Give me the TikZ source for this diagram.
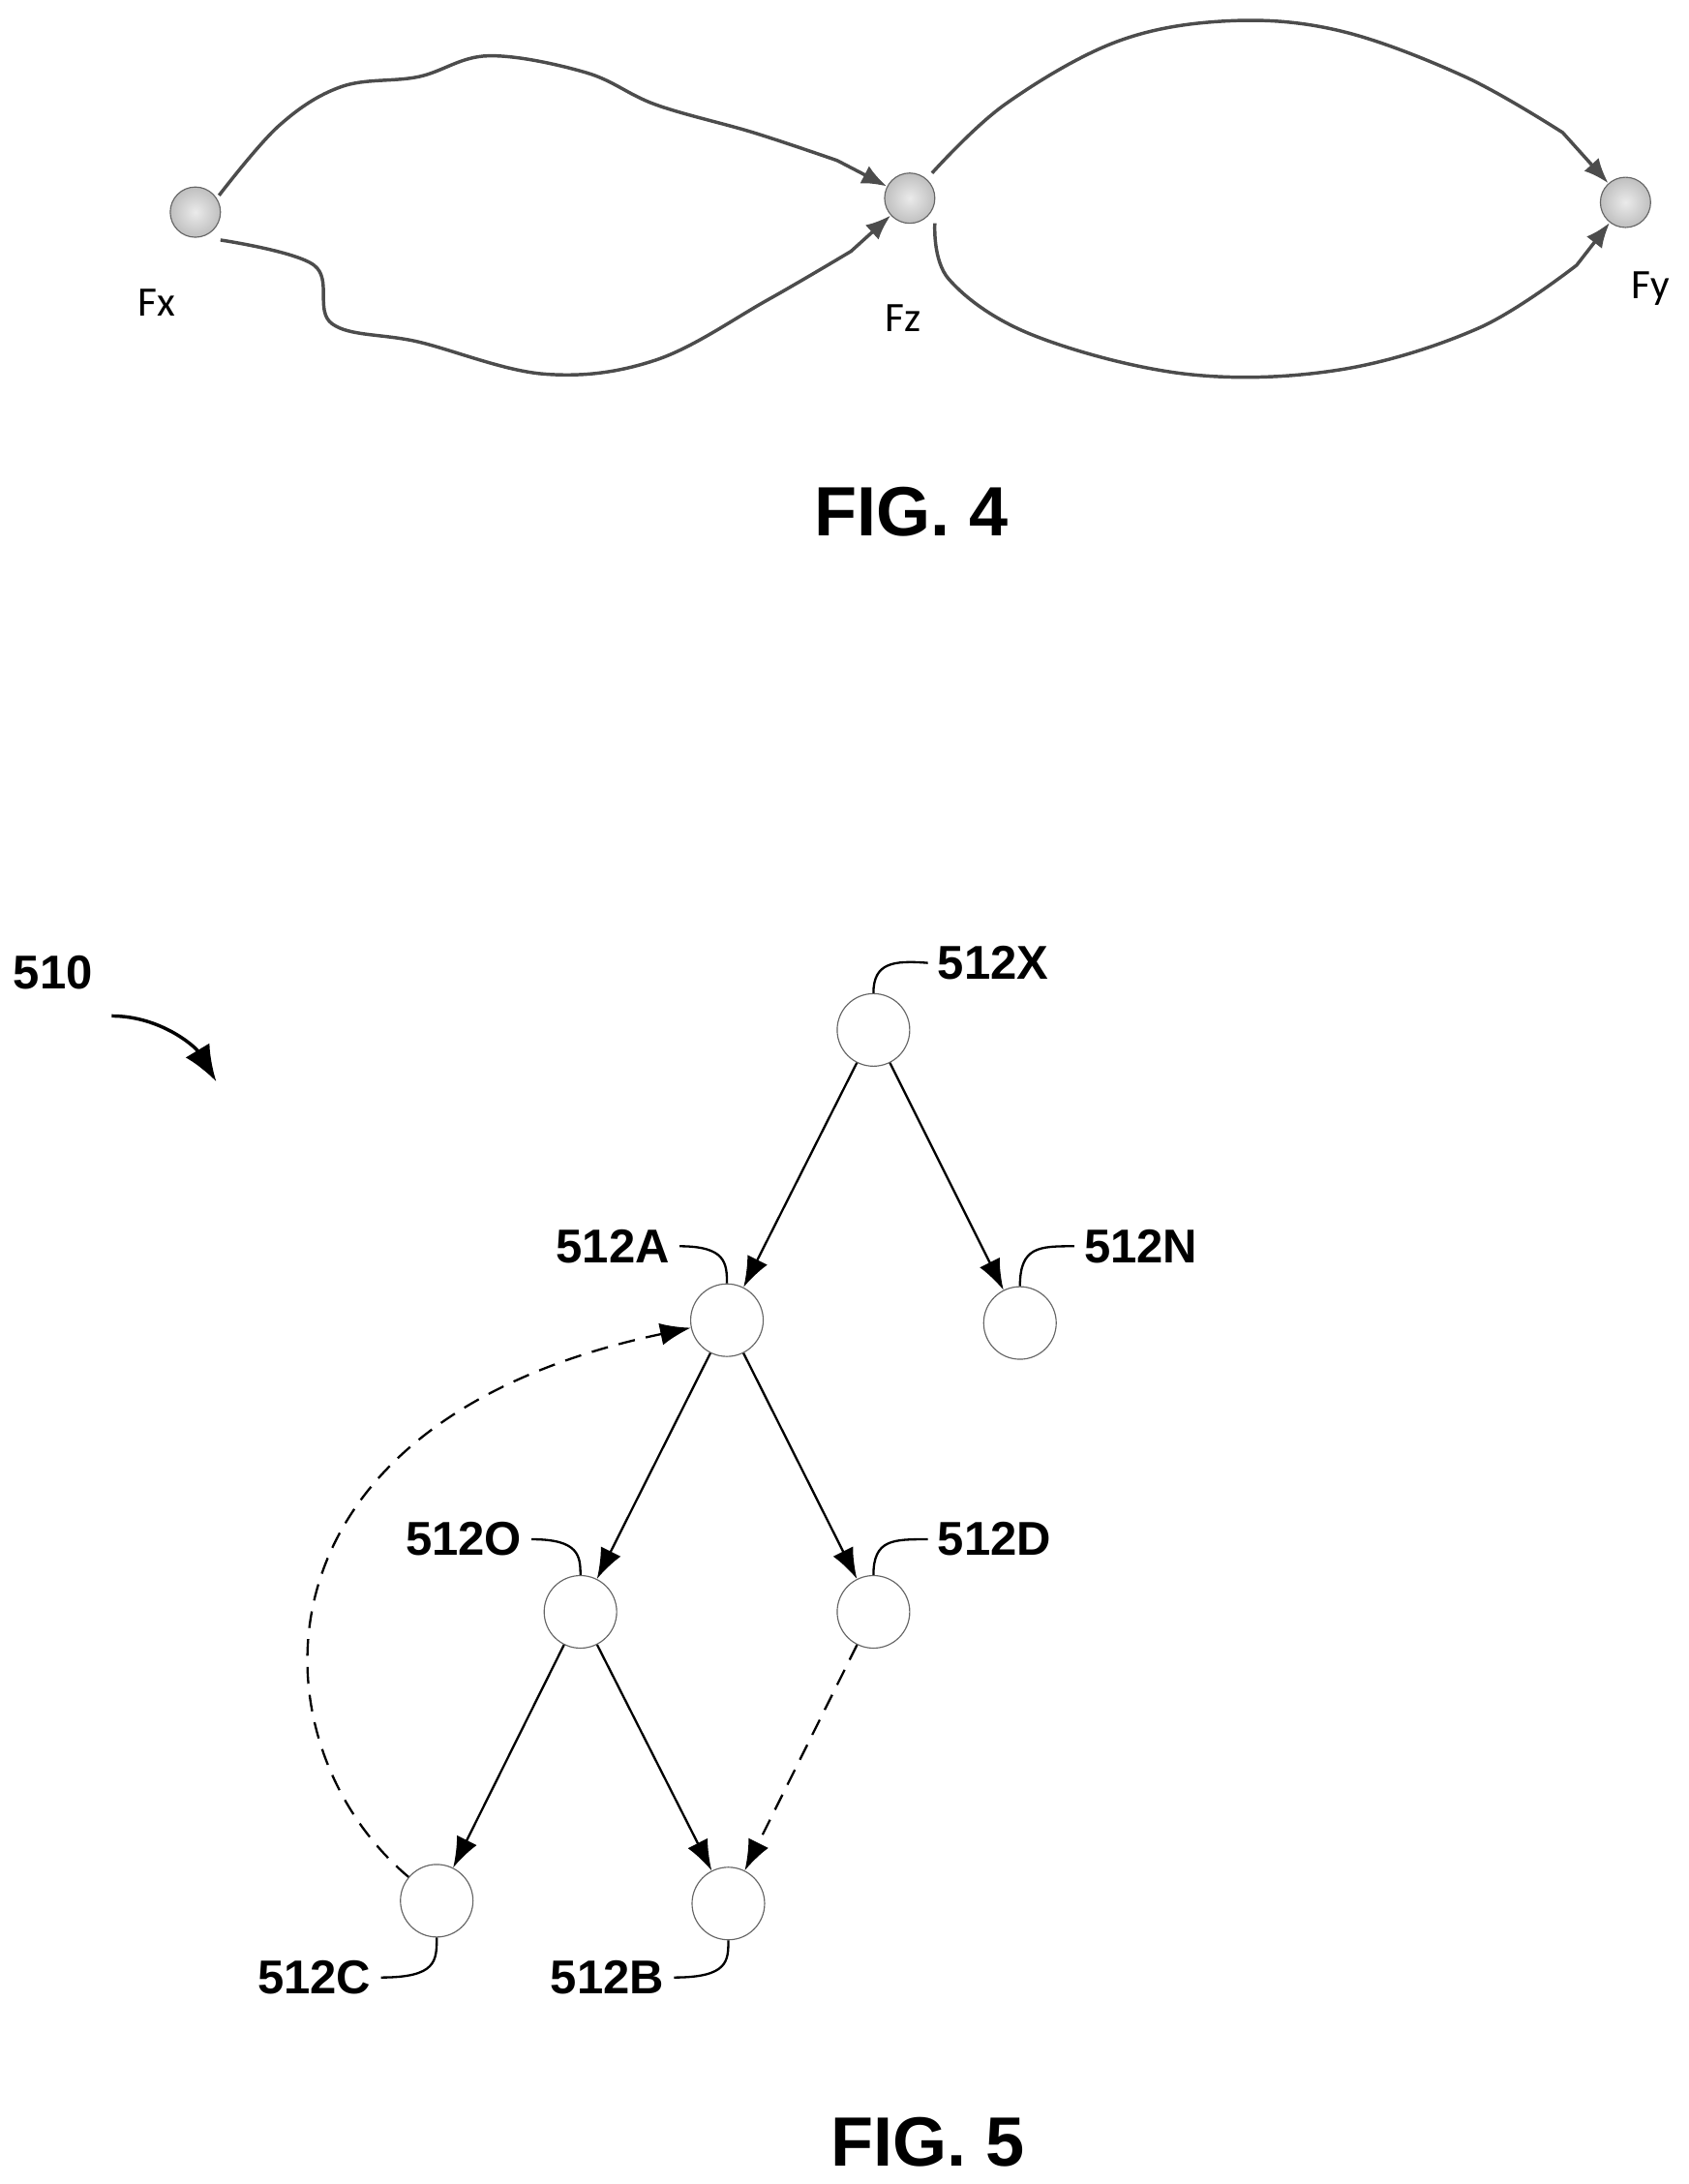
\documentclass[tikz,border=0pt]{standalone}
\usepackage{fontspec}
\setmainfont{Liberation Sans}
\newfontfamily\calfont{Carlito}
\usetikzlibrary{arrows.meta}
\begin{document}
\begin{tikzpicture}[x=0.5pt,y=-0.5pt,
  dot/.style={circle,draw=black!60,shading=radial,inner color=black!8,outer color=black!25,minimum size=18pt,inner sep=0pt},
  state/.style={circle,draw=black!60,fill=white,minimum size=26pt,inner sep=0pt},
  lbl/.style={font=\fontsize{17}{20}\selectfont\bfseries},
  flbl/.style={font=\calfont\fontsize{15}{18}\selectfont},
  wire/.style={draw=black!70,line width=1.2pt,-{Latex[length=9pt,width=7pt]}},
  edge/.style={line width=0.8pt,-{Latex[length=11pt,width=8pt]}},
  dashy/.style={dash pattern=on 6pt off 4pt},
  lead/.style={line width=0.8pt}]
\useasboundingbox (0,0) rectangle (1210,1565);

% FIG. 4
\node[dot] (fx) at (140,152) {};
\node[dot] (fz) at (652,142) {};
\node[dot] (fy) at (1165,145) {};
\node[flbl] (lfx) at (112,217) {Fx};
\node[flbl] (lfz) at (647,228) {Fz};
\node[flbl] (lfy) at (1183,207) {Fy};
\draw[wire] (fx) plot[smooth,tension=0.6] coordinates {(157,140) (200,90) (245,62) (300,55) (350,40) (420,52) (470,75) (540,95) (600,115)} -- (fz);
\draw[wire] (fx) plot[smooth,tension=0.6] coordinates {(158,172) (225,190) (238,232) (300,245) (390,268) (470,258) (550,215) (610,180)} -- (fz);
\draw[wire] (fz) plot[smooth,tension=0.6] coordinates {(668,124) (720,75) (800,30) (880,15) (960,22) (1050,55) (1120,95)} -- (fy);
\draw[wire] (fz) plot[smooth,tension=0.6] coordinates {(670,160) (680,200) (740,240) (850,268) (960,265) (1060,235) (1130,190)} -- (fy);
\node[font=\fontsize{25}{30}\selectfont\bfseries] (fig4) at (653,367) {FIG. 4};

% FIG. 5
\node[state] (x) at (626,738) {};
\node[state] (a) at (521,946) {};
\node[state] (n) at (731,948) {};
\node[state] (o) at (416,1155) {};
\node[state] (d) at (626,1155) {};
\node[state] (c) at (313,1362) {};
\node[state] (b) at (522,1364) {};

\node[lbl,anchor=west] (lx) at (665,690) {512X};
\node[lbl,anchor=east] (la) at (487,893) {512A};
\node[lbl,anchor=west] (ln) at (770,893) {512N};
\node[lbl,anchor=east] (lo) at (381,1103) {512O};
\node[lbl,anchor=west] (ld) at (665,1103) {512D};
\node[lbl,anchor=east] (lc) at (273,1417) {512C};
\node[lbl,anchor=east] (lb) at (483,1417) {512B};
\node[lbl] (l510) at (38,697) {510};

\draw[lead] (x.north) .. controls (626,690) and (640,688) .. (lx.west);
\draw[lead] (la.east) .. controls (520,893) and (521,905) .. (a.north);
\draw[lead] (n.north) .. controls (731,893) and (745,893) .. (ln.west);
\draw[lead] (lo.east) .. controls (415,1103) and (416,1115) .. (o.north);
\draw[lead] (d.north) .. controls (626,1103) and (640,1103) .. (ld.west);
\draw[lead] (lc.east) .. controls (313,1417) and (313,1405) .. (c.south);
\draw[lead] (lb.east) .. controls (522,1417) and (522,1405) .. (b.south);
\coordinate (s510) at (80,728);
\coordinate (e510) at (155,775);
\draw[line width=1.2pt,-{Latex[length=13pt,width=10pt]}] (s510) .. controls (115,728) and (140,750) .. (e510);

\draw[edge] (x) -- (a);
\draw[edge] (x) -- (n);
\draw[edge] (a) -- (o);
\draw[edge] (a) -- (d);
\draw[edge] (o) -- (c);
\draw[edge] (o) -- (b);
\draw[edge,dashy] (d) -- (b);
\draw[edge,dashy] (c) .. controls (180,1250) and (170,1020) .. (a);
\node[font=\fontsize{25}{30}\selectfont\bfseries] (fig5) at (665,1535) {FIG. 5};
\end{tikzpicture}
\end{document}
